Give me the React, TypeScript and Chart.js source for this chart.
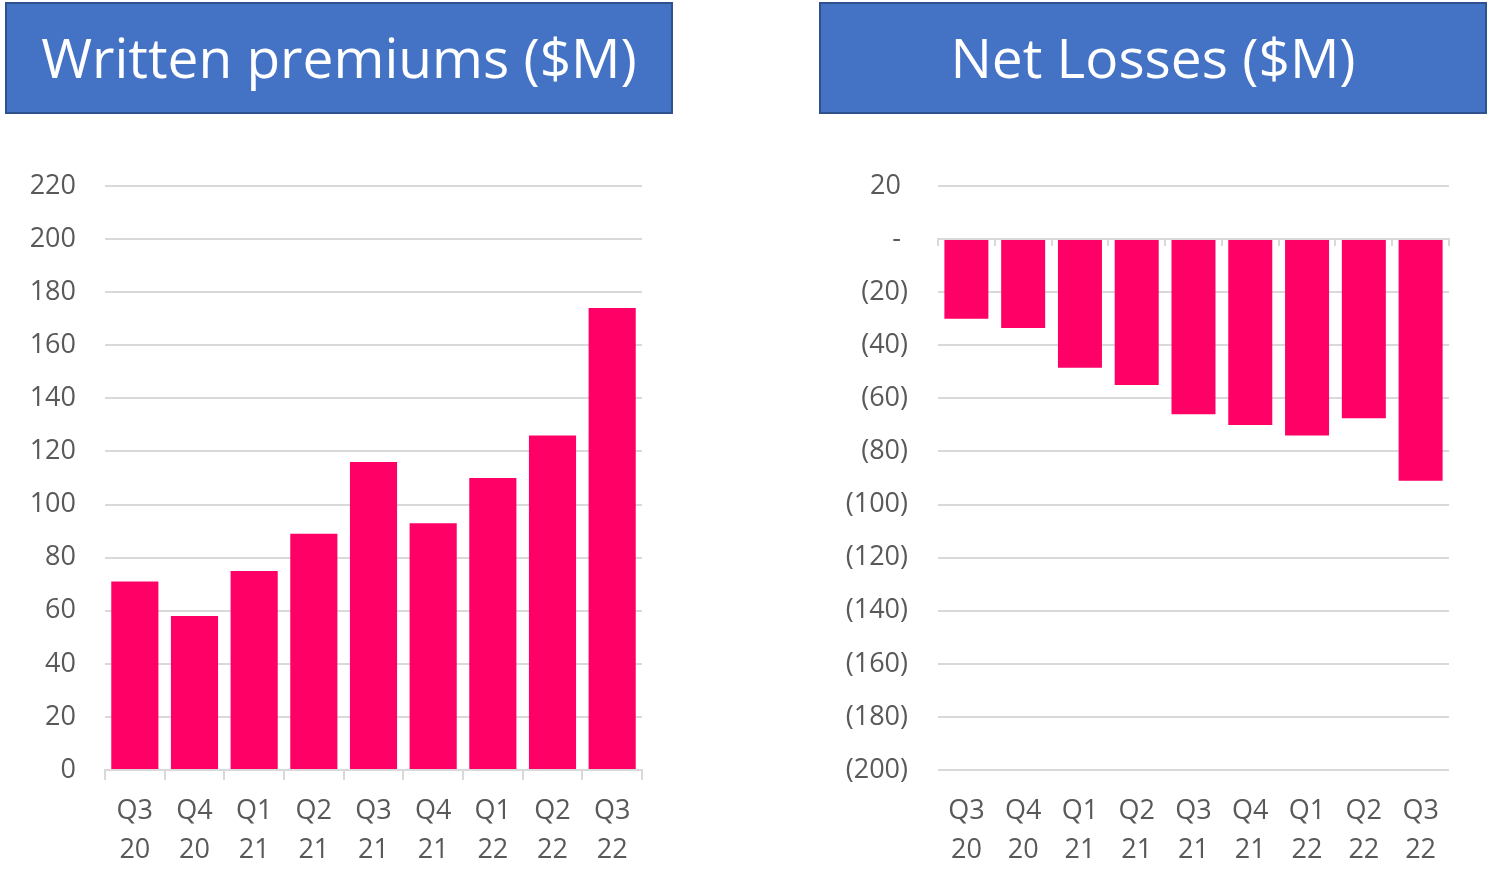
import React, { useEffect, useRef } from "react";
import { Chart, registerables } from "chart.js";

Chart.register(...registerables);

const quarterLabels: string[][] = [
  ["Q3", "20"], ["Q4", "20"], ["Q1", "21"], ["Q2", "21"], ["Q3", "21"],
  ["Q4", "21"], ["Q1", "22"], ["Q2", "22"], ["Q3", "22"],
];
const writtenPremiums: number[] = [71, 58, 75, 89, 116, 93, 110, 126, 174];
const netLosses: number[] = [-30, -33.5, -48.5, -55, -66, -70, -74, -67.5, -91];

const premiumsTitle = "Written premiums ($M)";
const lossesTitle = "Net Losses ($M)";

const BAR = "#FF0066";
const GRID = "#D9D9D9";
const TEXT = "#595959";
const FONT = "'Open Sans', 'Noto Sans', sans-serif";

function fmtLoss(v: number): string {
  if (v === 0) return "- ";
  if (v < 0) return "(" + Math.abs(v) + ")";
  return v + " ";
}

type PanelProps = {
  title: string;
  values: number[];
  min: number;
  max: number;
  yWidth: number;
  padRight: number;
  barPct: number;
  negative: boolean;
  width: number;
};

function BarPanel(p: PanelProps) {
  const ref = useRef<HTMLCanvasElement | null>(null);
  useEffect(() => {
    if (!ref.current) return;
    const tickFont = { family: FONT, size: 27 };
    const scales: any = {
      x: {
        type: "category",
        position: "bottom",
        offset: true,
        grid: p.negative
          ? { display: false, drawOnChartArea: false }
          : { offset: true, drawOnChartArea: false, drawTicks: true, tickLength: 10, color: GRID, lineWidth: 2 },
        border: p.negative ? { display: false } : { display: true, color: GRID, width: 2 },
        ticks: { color: TEXT, font: { ...tickFont, lineHeight: 1.45 }, padding: p.negative ? 14 : 12, maxRotation: 0, autoSkip: false },
        afterFit: (s: any) => { s.height = 110; },
      },
      y: {
        min: p.min,
        max: p.max,
        grid: { color: GRID, lineWidth: 2, drawTicks: false },
        border: { display: false },
        ticks: {
          stepSize: 20,
          color: TEXT,
          font: tickFont,
          padding: p.negative ? 30 : 29,
          callback: (v: any) => (p.negative ? fmtLoss(Number(v)) : String(v)),
        },
        afterFit: (s: any) => { s.width = p.yWidth; },
      },
    };
    if (p.negative) {
      scales.x0 = {
        type: "category",
        position: { y: 0 },
        offset: true,
        grid: { offset: true, drawOnChartArea: false, drawTicks: true, tickLength: 6, color: GRID, lineWidth: 2 },
        border: { display: true, color: GRID, width: 2 },
        ticks: { display: false },
      };
    }
    const chart = new Chart(ref.current, {
      type: "bar",
      data: {
        labels: quarterLabels as any,
        datasets: [
          {
            data: p.values,
            backgroundColor: BAR,
            borderWidth: 0,
            categoryPercentage: 1,
            barPercentage: p.barPct,
            xAxisID: "x",
          },
        ],
      },
      options: {
        animation: false,
        responsive: false,
        maintainAspectRatio: false,
        devicePixelRatio: 1,
        layout: { padding: { top: 66, right: p.padRight, left: 0, bottom: 0 } },
        plugins: { legend: { display: false }, tooltip: { enabled: false } },
        scales,
      },
    });
    return () => chart.destroy();
  }, []);
  return (
    <canvas ref={ref} width={p.width} height={760} style={{ width: p.width, height: 760, display: "block" }} />
  );
}

function TitleBox({ text }: { text: string }) {
  return (
    <div
      style={{
        boxSizing: "border-box",
        width: 668,
        height: 112,
        background: "#4472C4",
        border: "2.5px solid #2F528F",
        color: "#FFFFFF",
        fontFamily: FONT,
        fontSize: 55,
        display: "flex",
        alignItems: "center",
        justifyContent: "center",
        paddingBottom: 4,
        whiteSpace: "nowrap",
      }}
    >
      {text}
    </div>
  );
}

export default function App() {
  return (
    <div style={{ position: "fixed", left: 0, top: 0, width: 1488, height: 890, background: "#FFFFFF", overflow: "hidden" }}>
      <div style={{ position: "absolute", left: 5, top: 2 }}>
        <TitleBox text={premiumsTitle} />
      </div>
      <div style={{ position: "absolute", left: 819, top: 2 }}>
        <TitleBox text={lossesTitle} />
      </div>
      <div style={{ position: "absolute", left: 0, top: 120 }}>
        <BarPanel title={premiumsTitle} values={writtenPremiums} min={0} max={220} yWidth={105} padRight={38} barPct={0.79} negative={false} width={680} />
      </div>
      <div style={{ position: "absolute", left: 820, top: 120 }}>
        <BarPanel title={lossesTitle} values={netLosses} min={-200} max={20} yWidth={118} padRight={39} barPct={0.775} negative={true} width={668} />
      </div>
    </div>
  );
}
